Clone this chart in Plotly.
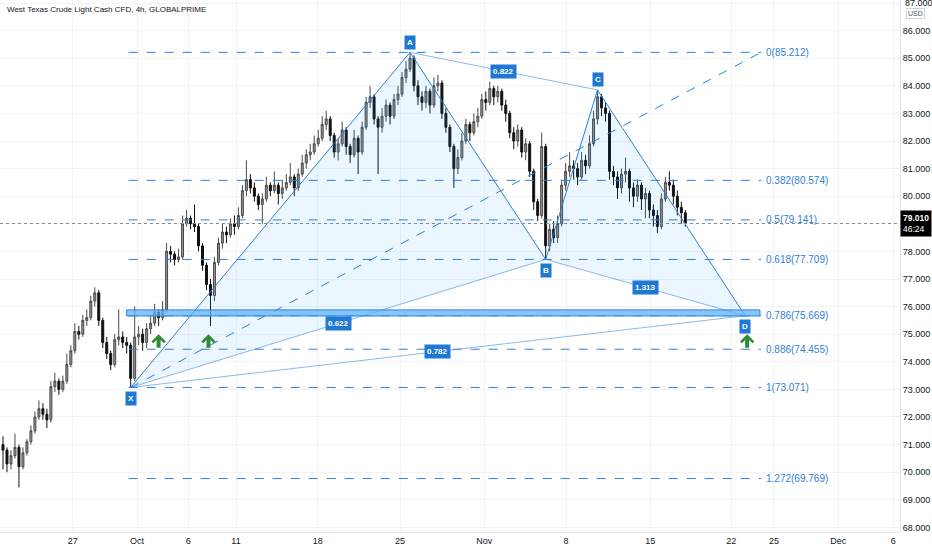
import plotly.graph_objects as go

# ---- 4h candles, WTI (open = previous close) ----
first_open = 71.0
closes = [70.8, 70.3, 70.6, 70.9, 70.2, 70.7, 71.1, 71.5, 72.0, 72.3,
          72.1, 71.9, 73.1, 73.3, 73.0, 73.3, 73.9, 74.4, 75.1, 75.0,
          75.5, 75.6, 76.2, 76.5, 75.5, 74.7, 74.3, 73.9, 74.8, 74.9,
          74.7, 74.6, 73.4, 74.9, 75.0, 74.7, 75.2, 75.4, 75.8, 75.6,
          75.9, 78.0, 77.9, 77.7, 77.8, 79.0, 79.2, 79.0, 78.9, 78.2,
          77.5, 76.8, 76.4, 77.6, 78.3, 78.7, 78.6, 79.0, 78.9, 79.3,
          80.2, 80.6, 80.3, 80.0, 79.7, 79.9, 80.4, 80.2, 80.4, 80.1,
          80.3, 80.5, 80.7, 80.3, 80.8, 81.2, 81.5, 81.6, 81.9, 82.1,
          82.6, 82.8, 82.2, 81.6, 81.9, 82.4, 81.8, 81.5, 82.1, 81.6,
          82.5, 83.4, 83.6, 82.8, 82.5, 82.9, 83.3, 82.9, 83.5, 83.7,
          84.3, 84.6, 85.0, 84.0, 83.6, 83.4, 83.8, 83.3, 84.0, 84.1,
          83.0, 82.5, 81.8, 81.0, 81.4, 82.0, 82.6, 82.3, 82.7, 82.9,
          83.5, 83.4, 83.9, 83.6, 83.8, 83.3, 83.0, 82.3, 82.0, 82.4,
          81.6, 81.9, 80.9, 79.8, 79.3, 81.8, 78.2, 78.8, 78.5, 79.0,
          80.4, 80.9, 81.1, 81.0, 80.7, 81.3, 81.1, 81.9, 82.8, 83.6,
          83.2, 83.0, 80.9, 80.7, 80.3, 80.8, 80.9, 80.3, 80.0, 80.4,
          79.9, 80.1, 79.5, 79.3, 78.9, 79.9, 80.5, 80.4, 80.0, 79.6,
          79.4, 79.01]
highs = [71.3, 70.9, 70.8, 71.4, 71.0, 70.9, 71.2, 71.7, 72.2, 72.6,
         72.5, 72.3, 73.3, 73.6, 73.4, 73.5, 74.3, 74.6, 75.4, 75.3,
         75.7, 75.9, 76.4, 76.7, 76.6, 75.6, 74.9, 74.4, 75.0, 75.9,
         75.1, 74.9, 74.7, 76.0, 75.3, 75.2, 75.4, 75.7, 76.1, 75.9,
         76.2, 78.3, 78.2, 78.0, 78.1, 79.3, 79.5, 79.3, 79.7, 79.0,
         78.3, 77.6, 77.0, 77.8, 78.5, 79.0, 78.9, 79.2, 79.3, 79.6,
         80.4, 81.3, 80.8, 80.5, 80.1, 80.1, 80.7, 80.5, 80.9, 80.5,
         80.6, 80.8, 81.2, 80.8, 81.0, 81.5, 81.7, 81.9, 82.2, 82.4,
         82.9, 83.1, 82.9, 82.3, 82.1, 82.7, 82.5, 81.9, 82.4, 82.2,
         82.7, 83.6, 84.0, 83.7, 82.9, 83.2, 83.5, 83.4, 83.7, 84.0,
         84.5, 84.9, 85.21, 85.1, 84.2, 83.8, 84.0, 83.9, 84.3, 84.4,
         84.2, 83.2, 82.6, 81.9, 81.7, 82.3, 82.8, 82.7, 83.0, 83.2,
         83.7, 83.8, 84.15, 84.0, 84.0, 83.9, 83.5, 83.1, 82.5, 82.6,
         82.5, 82.1, 82.0, 81.0, 79.9, 82.3, 81.9, 79.0, 79.1, 79.3,
         80.6, 81.2, 81.6, 81.3, 81.2, 81.6, 81.5, 82.2, 83.1, 83.85,
         83.7, 83.4, 83.1, 81.1, 80.9, 81.0, 81.4, 81.0, 80.5, 80.6,
         80.5, 80.3, 80.2, 79.7, 79.5, 80.1, 80.7, 80.9, 80.6, 80.2,
         79.8, 79.5]
lows = [70.1, 70.0, 70.1, 70.5, 69.45, 70.1, 70.6, 71.0, 71.4, 71.9,
        71.9, 71.6, 71.8, 72.9, 72.8, 72.9, 73.2, 73.8, 74.3, 74.8,
        74.9, 75.3, 75.5, 76.0, 75.3, 74.5, 74.1, 73.7, 73.8, 74.6,
        74.5, 74.3, 73.07, 73.3, 74.6, 74.4, 74.5, 75.0, 75.3, 75.3,
        75.5, 75.8, 77.6, 77.5, 77.6, 77.7, 78.9, 78.8, 78.7, 78.0,
        77.3, 76.6, 75.3, 76.2, 77.5, 78.1, 78.3, 78.5, 78.6, 78.8,
        79.2, 80.0, 80.1, 79.8, 79.5, 79.0, 79.8, 80.0, 80.1, 79.7,
        79.9, 80.2, 80.4, 80.0, 80.2, 80.7, 81.0, 81.3, 81.5, 81.8,
        82.0, 82.4, 82.0, 81.4, 81.3, 81.8, 81.5, 81.2, 81.4, 80.8,
        81.5, 82.4, 83.2, 82.6, 80.8, 82.3, 82.7, 82.6, 82.8, 83.3,
        83.6, 84.1, 84.5, 83.8, 83.3, 83.1, 83.2, 83.0, 83.2, 83.8,
        82.8, 82.3, 81.6, 80.3, 80.8, 81.3, 81.9, 82.0, 82.2, 82.5,
        82.8, 83.1, 83.3, 83.3, 83.4, 83.1, 82.7, 82.1, 81.7, 81.8,
        81.4, 81.3, 80.7, 79.5, 79.1, 79.2, 77.71, 78.0, 78.3, 78.3,
        78.9, 80.2, 80.7, 80.6, 80.4, 80.6, 80.8, 81.0, 81.8, 82.6,
        82.9, 82.7, 80.6, 80.4, 79.9, 80.1, 80.5, 79.8, 79.6, 79.8,
        79.5, 79.2, 79.2, 78.9, 78.67, 78.8, 79.8, 80.2, 79.7, 79.3,
        79.0, 78.9]

opens = [first_open] + closes[:-1]
bars = list(range(len(closes)))

# ---- XABCD pattern ----
pattern_names = ['X', 'A', 'B', 'C', 'D']
pattern_bars = [32, 102, 136, 149, 186]
pattern_prices = [73.071, 85.212, 77.709, 83.85, 75.669]

ratio_pairs = [('A', 'C'), ('X', 'B'), ('X', 'D'), ('B', 'D')]
ratio_texts = ['0.822', '0.622', '0.782', '1.313']

# ---- Fib retracement of XA ----
fib_ratios = ['0', '0.382', '0.5', '0.618', '0.786', '0.886', '1', '1.272']
fib_prices = [85.212, 80.574, 79.141, 77.709, 75.669, 74.455, 73.071, 69.769]

zone_low, zone_high = 75.66, 75.88
arrow_bars = [39, 51.5, 186.5]
arrow_price = 75.0

last_price = 79.01
countdown = '46:24'
top_price = 87

tick_bars = [17.5, 33.6, 46.4, 58.4, 78.9, 99.5, 120.6, 141.1, 162.2, 182.5, 193.2, 209.3, 223.1]
tick_labels = ['27', 'Oct', '6', '11', '18', '25', 'Nov', '8', '15', '22', '25', 'Dec', '6']

FONT = 'Liberation Sans Narrow, Liberation Sans, Arial'
BLUE = '#2f7fd8'
LABEL_BG = '#1f78d1'

pt = {n: (b, p) for n, b, p in zip(pattern_names, pattern_bars, pattern_prices)}
fib_start = pattern_bars[0] - 0.5
fib_end = 190

fig = go.Figure()

fig.add_trace(go.Candlestick(
    x=bars, open=opens, high=highs, low=lows, close=closes,
    increasing=dict(line=dict(color='#4a4a4a', width=1), fillcolor='#969696'),
    decreasing=dict(line=dict(color='#111111', width=1), fillcolor='#111111'),
    whiskerwidth=0, hoverinfo='skip'
))

# triangles XAB and BCD
for tri in (['X', 'A', 'B'], ['B', 'C', 'D']):
    fig.add_trace(go.Scatter(
        x=[pt[n][0] for n in tri] + [pt[tri[0]][0]],
        y=[pt[n][1] for n in tri] + [pt[tri[0]][1]],
        fill='toself', fillcolor='rgba(33,150,243,0.09)',
        mode='lines', line=dict(width=0), hoverinfo='skip'
    ))

# thin ratio legs
for (a, b), txt in zip(ratio_pairs, ratio_texts):
    fig.add_trace(go.Scatter(
        x=[pt[a][0], pt[b][0]], y=[pt[a][1], pt[b][1]],
        mode='lines', line=dict(color='rgba(47,127,216,0.55)', width=1),
        hoverinfo='skip'
    ))

# main legs
fig.add_trace(go.Scatter(
    x=pattern_bars, y=pattern_prices, mode='lines',
    line=dict(color=BLUE, width=1), hoverinfo='skip'
))

# fib trend line
fig.add_shape(type='line', x0=pattern_bars[0], y0=fib_prices[-2], x1=fib_end, y1=fib_prices[0],
              line=dict(color=BLUE, width=1, dash='dash'))

# fib levels
for r, p in zip(fib_ratios, fib_prices):
    fig.add_shape(type='line', x0=fib_start, x1=fib_end, y0=p, y1=p,
                  line=dict(color=BLUE, width=1, dash='dash'))
    fig.add_annotation(x=fib_end + 0.8, y=p, text=f'{r}({p:.3f})', showarrow=False,
                       xanchor='left', font=dict(size=10, color=BLUE, family=FONT))

# support zone
fig.add_shape(type='rect', x0=pattern_bars[0] - 1, x1=fib_end - 0.3, y0=zone_low, y1=zone_high,
              fillcolor='rgba(100,178,245,0.75)', line=dict(color='#1e88e5', width=1))

# current price line
fig.add_shape(type='line', xref='paper', x0=0, x1=1, y0=last_price, y1=last_price,
              line=dict(color='#8a8a8a', width=1, dash='dot'))

# point labels
for n, b, p in zip(pattern_names, pattern_bars, pattern_prices):
    up = n in ('A', 'C')
    fig.add_annotation(x=b, y=p, text=f'<b>{n}</b>', showarrow=False,
                       yshift=10 if up else -11, bgcolor=LABEL_BG, borderpad=2,
                       font=dict(size=8, color='white', family=FONT))

# ratio labels
for (a, b), txt in zip(ratio_pairs, ratio_texts):
    fig.add_annotation(x=(pt[a][0] + pt[b][0]) / 2, y=(pt[a][1] + pt[b][1]) / 2,
                       text=f'<b>{txt}</b>', showarrow=False, bgcolor=LABEL_BG, borderpad=2,
                       font=dict(size=8, color='white', family=FONT))

# green arrows (chevron head with stem)
for b in arrow_bars:
    fig.add_annotation(x=b, y=arrow_price, ax=0, ay=15, text='', showarrow=True,
                       arrowhead=4, arrowsize=0.6, arrowwidth=4, arrowcolor='#2e8b35')

# title
fig.add_annotation(xref='paper', yref='paper', x=0.006, y=0.995, xanchor='left', yanchor='top',
                   text='West Texas Crude Light Cash CFD, 4h, GLOBALPRIME', showarrow=False,
                   font=dict(size=8, color='#131722', family=FONT))

# price tag, top tick and currency
fig.add_annotation(xref='paper', x=1.0, y=last_price, xanchor='left',
                   text=f'<b>{last_price:.3f}</b><br>{countdown}', showarrow=False,
                   bgcolor='#000000', borderpad=2, align='left',
                   font=dict(size=8.5, color='white', family=FONT))
fig.add_annotation(xref='paper', x=1.0, y=top_price, xanchor='left', xshift=3,
                   text=f'{top_price:.3f}', showarrow=False,
                   font=dict(size=9, color='#131722', family=FONT))
fig.add_annotation(xref='paper', yref='paper', x=1.0, y=1.0, xanchor='left', yanchor='top',
                   xshift=6, yshift=-8, text='USD', showarrow=False,
                   bordercolor='#d1d4dc', borderwidth=1, borderpad=1, bgcolor='white',
                   font=dict(size=7, color='#555', family=FONT))

fig.update_layout(
    width=932, height=550,
    margin=dict(l=0, r=32, t=0, b=18),
    plot_bgcolor='white', paper_bgcolor='white',
    showlegend=False,
    font=dict(family=FONT, size=9, color='#131722'),
    xaxis=dict(range=[-0.75, 224.8], rangeslider=dict(visible=False),
               tickmode='array', tickvals=tick_bars, ticktext=tick_labels,
               showgrid=True, gridcolor='#f2f3f7', zeroline=False,
               showline=True, linecolor='#e0e3eb', ticks=''),
    yaxis=dict(range=[67.833, 87.109], side='right', dtick=1, tickformat='.3f',
               showgrid=True, gridcolor='#f2f3f7', zeroline=False,
               showline=True, linecolor='#e0e3eb', ticks=''),
)

fig.write_html('out.html', config={'displayModeBar': False},
               post_script="document.body.style.margin='0';")
